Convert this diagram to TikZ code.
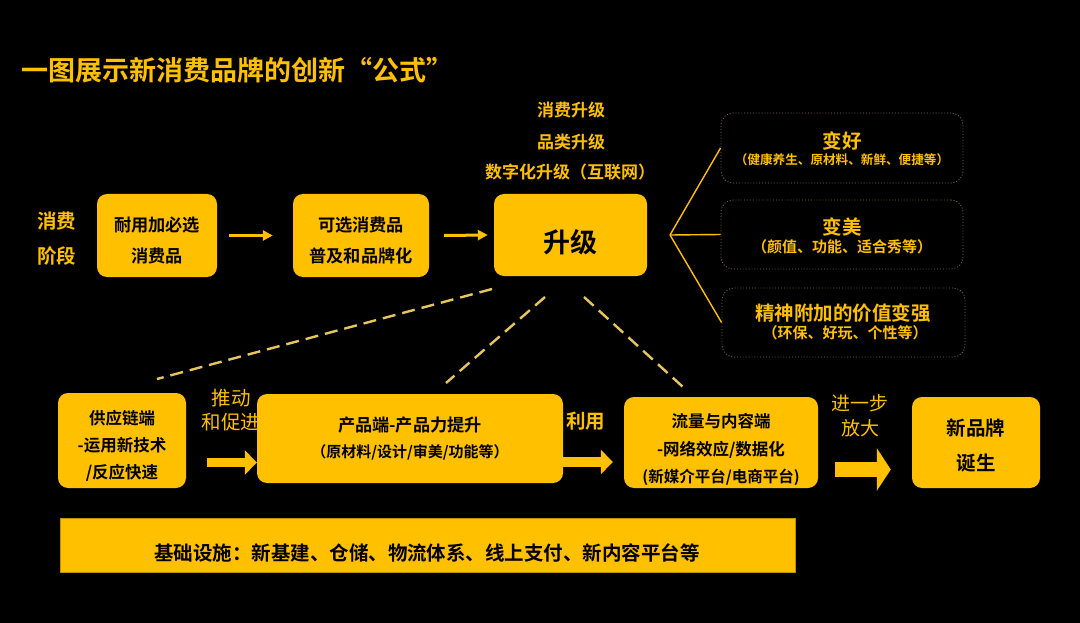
\documentclass[tikz,border=0pt]{standalone}
\usepackage{fontspec}
\setmainfont{Noto Sans CJK SC}[BoldFont={Noto Sans CJK SC Bold}]
\usetikzlibrary{arrows.meta,calc}
\definecolor{gold}{HTML}{FFC000}
\definecolor{dashgold}{HTML}{E6C65C}
\definecolor{dotgray}{HTML}{7A6C48}
\newcommand\dnshift[1]{\rule{0pt}{\dimexpr0.9em+#1+#1\relax}}
\begin{document}
\begin{tikzpicture}[x=1pt,y=-1pt,
  ybox/.style={fill=gold, rounded corners=10pt, inner sep=0pt, align=center, text=black},
  dbox/.style={draw=dotgray, dotted, line width=0.9pt, rounded corners=12pt, inner sep=0pt},
  glabel/.style={text=gold, inner sep=0pt, align=center},
  thinarrow/.style={draw=gold, line width=3pt, -{Triangle[length=10pt,width=10pt]}},
  fanline/.style={draw=gold, line width=1.4pt},
  dline/.style={draw=dashgold, line width=2.4pt, dash pattern=on 13pt off 7pt},
]
\fill[black] (0,0) rectangle (1080,623);
\useasboundingbox (0,0) rectangle (1080,623);

% title
\node[glabel, anchor=west, font=\bfseries\fontsize{27}{27}\selectfont] (title) at (21,70) {一图展示新消费品牌的创新“公式”};

% top row
\node[glabel, font=\bfseries\fontsize{19.5}{35}\selectfont] (stage) at (57,238.5) {消费\\阶段};
\node[ybox, minimum width=120pt, minimum height=83pt, font=\bfseries\fontsize{17.2}{31}\selectfont] (b1) at (157,235.5) {\dnshift{5pt}耐用加必选\\消费品};
\node[ybox, minimum width=136pt, minimum height=83pt, font=\bfseries\fontsize{17.2}{31}\selectfont] (b2) at (361,235.5) {\dnshift{5pt}可选消费品\\普及和品牌化};
\node[ybox, minimum width=153pt, minimum height=82pt, font=\bfseries\fontsize{27}{27}\selectfont] (b3) at (570.5,235) {\dnshift{7pt}升级};

\node[glabel, font=\bfseries\fontsize{17}{17}\selectfont] (u1) at (571,110) {消费升级};
\node[glabel, font=\bfseries\fontsize{17}{17}\selectfont] (u2) at (571,142) {品类升级};
\node[glabel, font=\bfseries\fontsize{17}{17}\selectfont] (u3) at (570,172) {数字化升级（互联网）};

\draw[thinarrow] ([xshift=12pt]b1.east) -- ([xshift=-20pt]b2.west);
\draw[thinarrow] ([xshift=15pt]b2.east) -- ([xshift=-6pt]b3.west);

% dotted boxes
\node[dbox, minimum width=242pt, minimum height=70pt] (dA) at (842,148) {};
\node[dbox, minimum width=242pt, minimum height=69pt] (dB) at (842,234.5) {};
\node[dbox, minimum width=243pt, minimum height=69pt] (dC) at (843.5,322.5) {};
\node[glabel, font=\bfseries\fontsize{19.5}{19.5}\selectfont] (tA) at (842,141) {变好};
\node[glabel, font=\bfseries\fontsize{12.6}{12.6}\selectfont] (sA) at (842,160) {（健康养生、原材料、新鲜、便捷等）};
\node[glabel, font=\bfseries\fontsize{19.5}{19.5}\selectfont] (tB) at (842,227) {变美};
\node[glabel, font=\bfseries\fontsize{15}{15}\selectfont] (sB) at (842,247) {（颜值、功能、适合秀等）};
\node[glabel, font=\bfseries\fontsize{19.5}{19.5}\selectfont] (tC) at (843,313) {精神附加的价值变强};
\node[glabel, font=\bfseries\fontsize{15}{15}\selectfont] (sC) at (845,333) {（环保、好玩、个性等）};

\coordinate (fan) at (670,235);
\draw[fanline] (fan) -- (dA.west);
\draw[fanline] (fan) -- (dB.west);
\draw[fanline] (fan) -- (dC.west);

% dashed lines
\coordinate (d1s) at (492,289);
\coordinate (d1e) at (157,379);
\coordinate (d2s) at (545,297);
\coordinate (d2e) at (446,383);
\coordinate (d3s) at (584,297);
\coordinate (d3e) at (683,387);
\draw[dline] (d1s) -- (d1e);
\draw[dline] (d2s) -- (d2e);
\draw[dline] (d3s) -- (d3e);

% bottom row
\node[glabel, font=\fontsize{19.5}{24}\selectfont] (push) at (231,410) {推动\\和促进};
\node[ybox, minimum width=128pt, minimum height=95pt, font=\bfseries\fontsize{16.5}{27}\selectfont] (b4) at (122,440.5) {\dnshift{5.5pt}供应链端\\-运用新技术\\/反应快速};
\node[ybox, minimum width=306pt, minimum height=89pt] (b5) at (410,438.5) {{\bfseries\fontsize{17.2}{17.2}\selectfont 产品端-产品力提升}\\[11pt]{\bfseries\fontsize{15}{15}\selectfont （原材料/设计/审美/功能等）}};
\node[ybox, minimum width=194pt, minimum height=91pt, font=\bfseries\fontsize{16.5}{27.5}\selectfont] (b6) at (721,442.5) {\dnshift{7pt}流量与内容端\\-网络效应/数据化\\{\fontsize{15.5}{15.5}\selectfont(新媒介平台/电商平台)}};
\node[ybox, minimum width=128pt, minimum height=91pt, font=\bfseries\fontsize{19.5}{35}\selectfont] (b7) at (976,442.5) {\dnshift{3pt}新品牌\\诞生};

\node[glabel, font=\bfseries\fontsize{19.5}{19.5}\selectfont] (use) at (585.5,421) {利用};
\node[glabel, font=\fontsize{19}{25}\selectfont] (amp) at (860,415.5) {进一步\\放大};

\coordinate (pA) at ($(b4.east)+(21,22)$);
\draw[draw=gold, line width=9pt, -{Triangle[length=12pt,width=24pt]}] (pA) -- (pA -| b5.west);
\coordinate (pB) at ($(b5.east)+(0,23.5)$);
\draw[draw=gold, line width=10pt, -{Triangle[length=12pt,width=24pt]}] (pB) -- ($(pB -| b6.west)+(-11,0)$);
\coordinate (pC) at ($(b6.east)+(17,27)$);
\draw[draw=gold, line width=15pt, -{Triangle[length=14pt,width=42pt]}] (pC) -- ($(pC -| b7.west)+(-21,0)$);

% infrastructure bar
\node[fill=gold, draw=gold!75!black, line width=0.6pt, minimum width=735pt, minimum height=54pt, inner sep=0pt] (bar) at (427.5,545) {};
\node[inner sep=0pt, text=black, font=\bfseries\fontsize{19.5}{19.5}\selectfont] (bartext) at (427,553) {基础设施：新基建、仓储、物流体系、线上支付、新内容平台等};
\end{tikzpicture}
\end{document}
